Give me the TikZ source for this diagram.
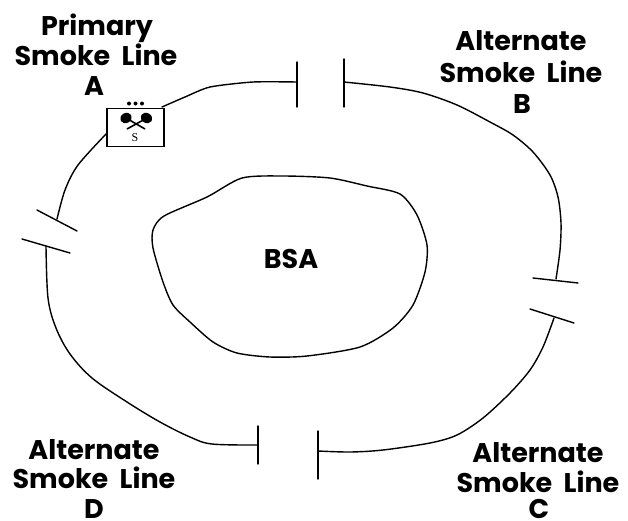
\documentclass[tikz,border=0pt]{standalone}
\usepackage{fontspec}
\setmainfont{Poppins}
\newcommand{\wgap}{\hspace{0.42em}}
\begin{document}
\begin{tikzpicture}[x=1pt,y=-1pt,
  ring/.style={draw=black,line width=1.4pt,line join=round,line cap=round},
  lbl/.style={font=\fontsize{27}{27}\selectfont\bfseries,inner sep=0pt,anchor=base}]
\useasboundingbox[fill=white] (0,0) rectangle (628,520);
\draw[ring] plot[smooth,tension=0.4] coordinates {(162,107) (185,97) (210,87) (253,82) (297,82)};
\draw[ring] plot[smooth,tension=0.5] coordinates {(344,82) (390,87) (423,93) (457,105) (490,122) (513,135) (533,152) (550,175) (558,197) (561,223) (560,250) (556,279)};
\draw[ring] plot[smooth,tension=0.5] coordinates {(554,318) (543,347) (530,370) (510,393) (483,418) (457,435) (430,443) (383,450) (350,452) (318,451)};
\draw[ring] plot[smooth,tension=0.55] coordinates {(258,445) (212,444) (190,437) (160,422) (127,402) (92,378) (70,354) (56,328) (48,298) (46,246)};
\draw[ring] plot[smooth,tension=0.5] coordinates {(57,219) (65,190) (78,165) (107,133)};
\draw[ring] (297,62) -- (297,107);
\draw[ring] (344,59) -- (344,107);
\draw[ring] (533,278) -- (578,283);
\draw[ring] (530,309) -- (574,323);
\draw[ring] (318,431) -- (318,479);
\draw[ring] (258,426) -- (258,464);
\draw[ring] (37,210) -- (77,231);
\draw[ring] (22,239) -- (70,253);
\draw[ring] plot[smooth cycle,tension=0.45] coordinates {(242,178) (283,176) (330,178) (367,186) (400,194) (417,215) (427,245) (425,272) (413,305) (393,328) (360,347) (307,356) (270,357) (237,353) (213,342) (190,322) (173,305) (163,282) (153,248) (153,230) (164,216) (207,197)};
\node[lbl] (bsa) at (291,268) {BSA};
\node[draw=black,line width=1.1pt,minimum width=57pt,minimum height=38pt,inner sep=0pt,fill=white] (box) at (135.5,127.5) {};
\node[inner sep=0pt,font=\fontsize{12}{12}\selectfont] (s) at (135,138) {\setmainfont{Liberation Serif}S};
\fill (129,103.5) circle (2pt) (135.5,103.5) circle (2pt) (142,103.5) circle (2pt);
\draw[line width=1.6pt] (127,129) -- (147,118) (145,129) -- (126,118);
\fill[rotate around={30:(126,118)}] (126,118) ellipse (6pt and 5pt);
\fill[rotate around={-30:(146.5,118)}] (146.5,118) ellipse (6pt and 5pt);
\node[lbl] at (97,35) {Primary};
\node[lbl] at (96,65) {Smoke\wgap Line};
\node[lbl] at (94,95) {A};
\node[lbl] at (521,50) {Alternate};
\node[lbl] at (521,82) {Smoke\wgap Line};
\node[lbl] at (522,113) {B};
\node[lbl] at (538,462) {Alternate};
\node[lbl] at (538,492) {Smoke\wgap Line};
\node[lbl] at (539,518) {C};
\node[lbl] at (94,459) {Alternate};
\node[lbl] at (94,488) {Smoke\wgap Line};
\node[lbl] at (94,518) {D};
\end{tikzpicture}
\end{document}
